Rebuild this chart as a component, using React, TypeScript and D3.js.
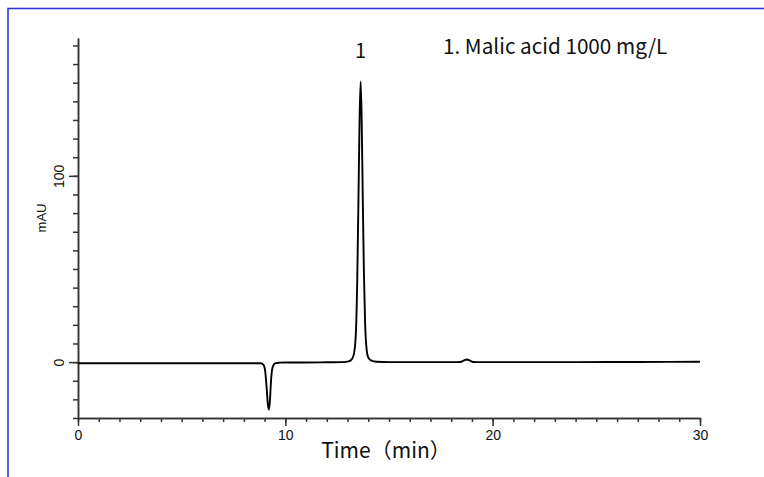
import React, { useEffect, useRef } from "react";
import * as d3 from "d3";

// chromatogram (min, mAU)
const retentionTimes = [
  0, 2, 4, 6, 8, 8.8, 8.95, 9.03, 9.1, 9.16, 9.21, 9.26, 9.31, 9.37, 9.45, 9.55, 9.7, 10,
  11, 12, 12.8, 13.05, 13.2, 13.3, 13.4, 13.47, 13.53, 13.58, 13.63, 13.68, 13.73, 13.79,
  13.85, 13.92, 14.0, 14.15, 14.4, 15, 16, 17, 18, 18.45, 18.6, 18.75, 18.9, 19.05, 19.5,
  21, 24, 27, 30,
];
const absorbance = [
  -0.6, -0.6, -0.6, -0.6, -0.6, -0.6, -1.5, -5, -14, -23, -25.5, -20, -10, -3.5, -1.2, -0.5,
  -0.3, -0.2, -0.2, -0.1, 0, 0.4, 1.5, 4, 15, 45, 90, 130, 150.5, 132, 92, 48, 20, 7, 2.5,
  0.8, 0.2, 0, 0, 0, 0, 0.1, 0.8, 1.4, 0.8, 0.1, 0, 0, 0, 0.1, 0.2,
];

const xMajorTicks = [0, 10, 20, 30];
const yMajorTicks = [0, 100];
const peakLabels = [{ label: "1", time: 13.63, value: 150.5 }];
const legendText = "1. Malic acid 1000 mg/L";
const xTitle = "Time（min）";
const yTitle = "mAU";

const W = 764;
const H = 477;
const x = d3.scaleLinear().domain([0, 30]).range([78, 700]);
const y = d3.scaleLinear().domain([-30, 174]).range([418, 38]);

const axisFont = "'Liberation Sans', Arial, sans-serif";
const cjkFont = "'Noto Sans CJK SC', 'Noto Sans', sans-serif";

export default function App() {
  const xRef = useRef<SVGGElement>(null);
  const xMinorRef = useRef<SVGGElement>(null);
  const yRef = useRef<SVGGElement>(null);
  const yMinorRef = useRef<SVGGElement>(null);

  useEffect(() => {
    const styleAxis = (g: any) => {
      g.selectAll("path,line").attr("stroke", "#333").attr("stroke-width", 1.5);
      g.selectAll("text")
        .attr("fill", "#111")
        .style("font-family", axisFont)
        .style("font-size", "14px");
    };

    d3.select(xMinorRef.current!)
      .call(d3.axisBottom(x).tickValues(d3.range(0, 31, 1)).tickSize(4).tickSizeOuter(0).tickFormat(() => ""))
      .call(styleAxis);
    d3.select(xRef.current!)
      .call(d3.axisBottom(x).tickValues(xMajorTicks).tickSize(8).tickSizeOuter(0).tickPadding(4))
      .call(styleAxis);

    d3.select(yMinorRef.current!)
      .call(d3.axisLeft(y).tickValues(d3.range(-30, 175, 10)).tickSize(5).tickSizeOuter(0).tickFormat(() => ""))
      .call(styleAxis);
    const yg = d3.select(yRef.current!)
      .call(d3.axisLeft(y).tickValues(yMajorTicks).tickSize(9).tickSizeOuter(0))
      .call(styleAxis);
    yg.selectAll("text")
      .attr("transform", "rotate(-90)")
      .attr("x", 0)
      .attr("y", -14)
      .attr("dy", 0)
      .attr("text-anchor", "middle");
  }, []);

  const points = retentionTimes.map((t, i) => [t, absorbance[i]] as [number, number]);
  const line = d3
    .line<[number, number]>()
    .x((d) => x(d[0]))
    .y((d) => y(d[1]))
    .curve(d3.curveMonotoneX);

  return (
    <svg width={W} height={H} style={{ position: "fixed", left: 0, top: 0, background: "#fff" }}>
      <rect x={8} y={8.5} width={W + 20} height={H + 20} fill="none" stroke="#3535d6" strokeWidth={1.6} />

      <g ref={xMinorRef} transform={`translate(0,${y(-30)})`} />
      <g ref={xRef} transform={`translate(0,${y(-30)})`} />
      <g ref={yMinorRef} transform={`translate(${x(0)},0)`} />
      <g ref={yRef} transform={`translate(${x(0)},0)`} />

      <path d={line(points) ?? ""} fill="none" stroke="#000" strokeWidth={1.9} strokeLinejoin="round" />

      {peakLabels.map((p) => (
        <text
          key={p.label}
          x={x(p.time)}
          y={y(p.value) - 24}
          textAnchor="middle"
          fontFamily={cjkFont}
          fontSize={20}
          fill="#111"
        >
          {p.label}
        </text>
      ))}

      <text x={443} y={54} fontFamily={cjkFont} fontSize={20.7} fill="#111">
        {legendText}
      </text>

      <text x={386} y={458} textAnchor="middle" fontFamily={cjkFont} fontSize={21} fill="#111">
        {xTitle}
      </text>

      <text
        transform={`translate(46,218) rotate(-90)`}
        textAnchor="middle"
        fontFamily={axisFont}
        fontSize={13}
        fill="#111"
      >
        {yTitle}
      </text>
    </svg>
  );
}
